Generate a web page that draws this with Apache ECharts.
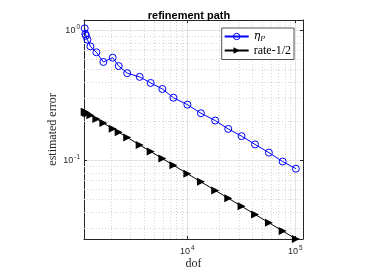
<!DOCTYPE html>
<html>
<head>
<meta charset="utf-8">
<script src="https://cdn.jsdelivr.net/npm/echarts@6/dist/echarts.min.js"></script>
<style>html,body{margin:0;padding:0;background:#fff}#c{width:374px;height:270px}</style>
</head>
<body>
<div id="c"></div>
<script>
// ---- data ----
const dof = [1125, 1140, 1156, 1192, 1270, 1443, 1675, 2042, 2322, 2782, 3630, 4590, 5890, 7450,
  10040, 13390, 18150, 23970, 31850, 42460, 57070, 76500, 101400];
const etaP = [1.04, 0.94, 0.912, 0.85, 0.756, 0.68, 0.573, 0.618, 0.533, 0.47, 0.44, 0.395, 0.355, 0.304,
  0.269, 0.231, 0.203, 0.175, 0.154, 0.133, 0.115, 0.0982, 0.0865];
const rate = [0.2367, 0.2352, 0.2335, 0.2300, 0.2228, 0.2090, 0.1940, 0.1757, 0.1648, 0.1505, 0.1318, 0.1172,
  0.1035, 0.0920, 0.0792, 0.0686, 0.0589, 0.0513, 0.0445, 0.0385, 0.0332, 0.0287, 0.0249];
const xMinorGrid = [2000, 3000, 4000, 5000, 6000, 7000, 8000, 9000, 20000, 30000, 40000, 50000, 60000, 70000, 80000, 90000];
const yMinorGrid = [0.03, 0.04, 0.05, 0.06, 0.07, 0.08, 0.09, 0.2, 0.3, 0.4, 0.5, 0.6, 0.7, 0.8, 0.9];
const seriesNames = ['etaP', 'rate-1/2'];

function powLabel(v) {
  const e = Math.log10(v);
  const r = Math.round(e);
  if (Math.abs(e - r) > 1e-6) return '';
  return '{b|10}{s|' + r + '}';
}
const tickRich = {
  b: { fontFamily: 'Liberation Sans', fontSize: 9, color: '#262626' },
  s: { fontFamily: 'Liberation Sans', fontSize: 6.5, color: '#262626', padding: [0, 0, 7, 1] }
};
const X_MIN = 1108, X_MAX = 118000, Y_MIN = 0.0249, Y_MAX = 1.205;

const chart = echarts.init(document.getElementById('c'), null, { renderer: 'canvas' });
const minorLines = [];
xMinorGrid.forEach(v => minorLines.push({ xAxis: v }));
yMinorGrid.forEach(v => minorLines.push({ yAxis: v }));

const axisLineStyle = { show: true, lineStyle: { color: '#262626', width: 1 } };
const tickStyle = { show: true, inside: true, length: 3, lineStyle: { color: '#262626' } };

chart.setOption({
  animation: false,
  backgroundColor: '#fff',
  title: {
    text: 'refinement path', left: 184, top: 5, textAlign: 'center',
    textStyle: { fontFamily: 'Liberation Sans', fontWeight: 'bold', fontSize: 11, color: '#000' }
  },
  grid: { left: 84, right: 71, top: 20, bottom: 31, show: false, containLabel: false, outerBoundsMode: 'none' },
  legend: {
    right: 80, top: 28, orient: 'vertical', itemGap: 2, itemWidth: 24, itemHeight: 8,
    backgroundColor: '#fff', borderColor: '#262626', borderWidth: 0.8, padding: [3, 3, 3, 2],
    itemStyle: { borderWidth: 1 },
    data: seriesNames,
    formatter: function (n) { return n === 'etaP' ? '{i|η}{sub|P}' : '{r|rate-1/2}'; },
    textStyle: {
      rich: {
        i: { fontFamily: 'DejaVu Serif', fontStyle: 'italic', fontSize: 11, color: '#000' },
        sub: { fontFamily: 'DejaVu Serif', fontStyle: 'italic', fontSize: 7, color: '#000', padding: [5, 0, 0, 0] },
        r: { fontFamily: 'Liberation Serif', fontSize: 12, color: '#000' }
      }
    }
  },
  xAxis: [{
    type: 'log', logBase: 10, min: X_MIN, max: X_MAX, position: 'bottom',
    name: 'dof', nameLocation: 'middle', nameGap: 19, nameMoveOverlap: false,
    nameTextStyle: { fontFamily: 'Liberation Serif', fontSize: 12, color: '#262626' },
    axisLine: axisLineStyle, axisTick: tickStyle,
    axisLabel: { formatter: powLabel, rich: tickRich, margin: 6, showMinLabel: false, showMaxLabel: false },
    splitLine: { show: true, lineStyle: { color: '#e3e3e3', width: 1 } }
  }, {
    type: 'log', logBase: 10, min: X_MIN, max: X_MAX, position: 'top',
    axisLine: axisLineStyle, axisTick: tickStyle,
    axisLabel: { show: false }, splitLine: { show: false }
  }],
  yAxis: [{
    type: 'log', logBase: 10, min: Y_MIN, max: Y_MAX, position: 'left',
    name: 'estimated error', nameLocation: 'middle', nameGap: 25, nameMoveOverlap: false,
    nameTextStyle: { fontFamily: 'Liberation Serif', fontSize: 12, color: '#262626' },
    axisLine: axisLineStyle, axisTick: tickStyle,
    axisLabel: { formatter: powLabel, rich: tickRich, margin: 4, showMinLabel: false, showMaxLabel: false },
    splitLine: { show: true, lineStyle: { color: '#e3e3e3', width: 1 } }
  }, {
    type: 'log', logBase: 10, min: Y_MIN, max: Y_MAX, position: 'right',
    axisLine: axisLineStyle, axisTick: tickStyle,
    axisLabel: { show: false }, splitLine: { show: false }
  }],
  series: [
    {
      name: 'etaP', type: 'line', z: 3, xAxisIndex: 0, yAxisIndex: 0,
      data: dof.map((d, i) => [d, etaP[i]]),
      symbol: 'circle', symbolSize: 7,
      itemStyle: { color: 'rgba(0,0,0,0)', borderColor: '#0000ff', borderWidth: 1 },
      lineStyle: { color: '#0000ff', width: 1 },
      markLine: {
        silent: true, symbol: 'none', z: 1, animation: false,
        label: { show: false },
        lineStyle: { color: '#d4d4d4', type: [1, 2], width: 1 },
        emphasis: { disabled: true },
        data: minorLines
      }
    },
    {
      name: 'rate-1/2', type: 'line', z: 3, xAxisIndex: 0, yAxisIndex: 0,
      data: dof.map((d, i) => [d, rate[i]]),
      symbol: 'triangle', symbolSize: 8, symbolRotate: -90,
      itemStyle: { color: '#000' },
      lineStyle: { color: '#000', width: 1 }
    }
  ]
});
</script>
</body>
</html>
